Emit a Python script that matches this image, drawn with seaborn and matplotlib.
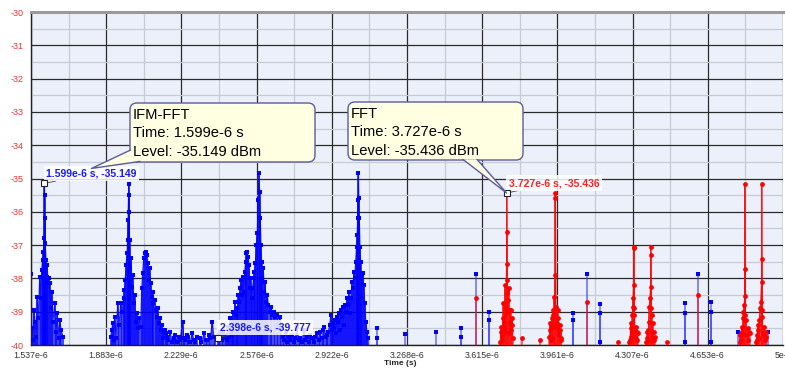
import matplotlib
matplotlib.use("Agg")
import matplotlib.pyplot as plt
from matplotlib.patches import FancyBboxPatch, Polygon
from matplotlib.lines import Line2D
from matplotlib.transforms import Affine2D
import numpy as np
import pandas as pd
import seaborn as sns

# ---------------- data (time in microseconds, level in dBm) ----------------
ifm_burst1_t = [1.537, 1.541, 1.546, 1.551, 1.556, 1.561, 1.566, 1.571, 1.577, 1.582,
                1.586, 1.590, 1.594, 1.597, 1.599, 1.600, 1.601, 1.603, 1.606, 1.609,
                1.612, 1.615, 1.619, 1.623, 1.628, 1.633, 1.638, 1.646, 1.652, 1.658,
                1.664, 1.669, 1.676, 1.684]
ifm_burst1_lv = [-37.87, -39.50, -39.85, -38.95, -39.30, -39.75, -38.55, -39.20, -37.96, -38.60,
                 -37.75, -37.45, -37.20, -36.80, -35.149, -35.50, -36.20, -36.95, -37.45, -37.95,
                 -37.60, -38.15, -38.00, -38.15, -38.90, -38.40, -39.30, -38.75, -39.60, -39.05,
                 -39.80, -39.25, -39.55, -39.75]

ifm_burst2_t = [1.904, 1.909, 1.913, 1.918, 1.922, 1.929, 1.936, 1.943, 1.950, 1.957,
                1.963, 1.967, 1.971, 1.975, 1.979, 1.982, 1.984, 1.986, 1.987, 1.989,
                1.991, 1.994, 1.998, 2.002, 2.005, 2.010, 2.014, 2.019, 2.024, 2.030,
                2.036, 2.042, 2.047, 2.051, 2.056, 2.060, 2.065, 2.070, 2.074, 2.079,
                2.083, 2.088, 2.092, 2.097, 2.101, 2.106, 2.111, 2.116, 2.120, 2.125,
                2.129, 2.134, 2.138, 2.143, 2.147, 2.152, 2.157]
ifm_burst2_lv = [-39.75, -39.55, -39.35, -39.85, -39.15, -39.80, -38.75, -39.40, -38.75, -39.00,
                 -38.60, -38.35, -38.05, -37.60, -37.25, -36.85, -36.25, -35.50, -35.17, -36.00,
                 -36.85, -37.65, -37.40, -38.25, -37.90, -38.75, -38.50, -39.30, -39.05, -39.50,
                 -39.20, -39.45, -38.30, -37.85, -37.40, -37.25, -37.20, -37.30, -37.55, -38.05,
                 -37.70, -38.15, -38.55, -38.40, -38.75, -38.65, -38.95, -39.15, -38.90, -39.35,
                 -39.20, -39.55, -39.40, -39.60, -39.80, -39.55, -39.65]

ifm_floor1_t = [2.162, 2.170, 2.178, 2.186, 2.194, 2.202, 2.210, 2.217, 2.224, 2.235,
                2.241, 2.248, 2.255, 2.262, 2.270, 2.280, 2.287, 2.294, 2.302, 2.313,
                2.322, 2.335, 2.342, 2.349, 2.356, 2.363, 2.372, 2.379, 2.386, 2.398,
                2.404, 2.409, 2.416, 2.423, 2.430, 2.436]
ifm_floor1_lv = [-39.75, -39.85, -39.60, -39.90, -39.80, -39.70, -39.90, -39.75, -39.85, -39.30,
                 -39.80, -39.85, -39.70, -39.75, -39.90, -39.65, -39.85, -39.90, -39.75, -39.80,
                 -39.90, -39.65, -39.85, -39.85, -39.70, -39.80, -39.30, -39.75, -39.75, -39.777,
                 -39.70, -39.60, -39.85, -39.65, -39.80, -39.70]

ifm_burst3_t = [2.441, 2.446, 2.451, 2.455, 2.459, 2.462, 2.466, 2.469, 2.473, 2.476,
                2.480, 2.484, 2.487, 2.491, 2.496, 2.500, 2.505, 2.509, 2.513, 2.517,
                2.521, 2.525, 2.529, 2.533, 2.537, 2.541, 2.545, 2.549, 2.553, 2.557,
                2.562, 2.566, 2.570, 2.575, 2.579, 2.583, 2.587, 2.590, 2.593, 2.596,
                2.599, 2.603, 2.607, 2.611, 2.615, 2.620, 2.625, 2.630, 2.636, 2.642,
                2.648, 2.655, 2.661, 2.668, 2.675, 2.682, 2.689]
ifm_burst3_lv = [-39.85, -39.45, -39.75, -39.20, -39.60, -39.70, -39.00, -39.30, -39.50, -38.70,
                 -39.10, -38.90, -39.30, -38.50, -38.70, -38.30, -38.05, -38.50, -37.95, -38.40,
                 -37.80, -37.50, -37.25, -37.20, -37.35, -37.60, -38.30, -38.00, -38.60, -38.30,
                 -38.00, -37.80, -37.55, -37.00, -36.65, -35.65, -34.82, -35.40, -36.20, -37.00,
                 -37.50, -38.00, -37.70, -38.40, -38.10, -38.70, -38.50, -38.80, -39.00, -38.85,
                 -39.10, -39.00, -39.15, -39.10, -39.40, -39.15, -39.50]

ifm_floor2_t = [2.696, 2.703, 2.710, 2.717, 2.724, 2.731, 2.739, 2.746, 2.754, 2.762,
                2.770, 2.778, 2.785, 2.794, 2.801, 2.808, 2.816, 2.824, 2.831, 2.839,
                2.846, 2.853, 2.861, 2.868, 2.875]
ifm_floor2_lv = [-39.75, -39.85, -39.60, -39.90, -39.75, -39.85, -39.70, -39.90, -39.80, -39.45,
                 -39.85, -39.80, -39.90, -39.55, -39.85, -39.75, -39.90, -39.70, -39.80, -39.90,
                 -39.75, -39.65, -39.85, -39.60, -39.80]

ifm_burst4_t = [2.882, 2.888, 2.894, 2.900, 2.906, 2.912, 2.918, 2.923, 2.928, 2.932,
                2.937, 2.941, 2.946, 2.950, 2.955, 2.960, 2.964, 2.969, 2.973, 2.978,
                2.983, 2.987, 2.992, 2.996, 3.001, 3.005, 3.010, 3.015, 3.019, 3.024,
                3.028, 3.032, 3.036, 3.039, 3.041, 3.043, 3.045, 3.047, 3.049, 3.052,
                3.055, 3.058, 3.061, 3.065, 3.069, 3.074, 3.079, 3.084, 3.090]
ifm_burst4_lv = [-39.55, -39.45, -39.75, -39.70, -39.60, -39.40, -39.10, -39.55, -39.35, -39.50,
                 -39.25, -39.65, -39.15, -39.30, -39.05, -39.55, -38.95, -39.15, -38.85, -39.40,
                 -38.80, -39.00, -38.60, -38.80, -38.40, -39.05, -38.60, -38.10, -38.30, -37.80,
                 -38.00, -37.50, -37.05, -36.70, -36.20, -35.65, -34.82, -35.60, -36.20, -37.05,
                 -37.50, -38.60, -37.90, -37.85, -38.20, -38.75, -39.30, -39.60, -39.80]

ifm_sparse_t = [3.129, 3.129, 3.258, 3.400, 3.519, 3.519, 3.584, 3.648, 3.648, 4.033,
                4.033, 4.098, 4.157, 4.157, 4.157, 4.547, 4.547, 4.547, 4.607, 4.667,
                4.667, 4.667, 4.791, 4.933]
ifm_sparse_lv = [-39.50, -39.80, -39.67, -39.62, -39.50, -39.75, -37.87, -39.00, -39.25, -39.03,
                 -39.25, -37.87, -38.78, -39.05, -39.90, -38.75, -39.05, -39.90, -37.87, -38.70,
                 -39.00, -39.90, -39.60, -39.60]

fft_burst1_t = [3.698, 3.700, 3.703, 3.706, 3.708, 3.710, 3.712, 3.714, 3.716, 3.718,
                3.720, 3.722, 3.724, 3.727, 3.727, 3.727, 3.729, 3.731, 3.733, 3.735,
                3.738, 3.740, 3.742, 3.744, 3.746, 3.749, 3.752, 3.754, 3.756]
fft_burst1_lv = [-39.90, -39.60, -39.45, -39.85, -39.70, -39.20, -38.75, -39.50, -39.30, -38.90,
                 -38.20, -39.60, -39.00, -35.436, -36.60, -37.57, -38.05, -38.45, -39.00, -38.65,
                 -38.30, -39.65, -38.95, -39.30, -38.95, -39.55, -39.20, -39.40, -39.80]

fft_burst2_t = [3.923, 3.926, 3.928, 3.930, 3.932, 3.935, 3.937, 3.939, 3.941, 3.944,
                3.946, 3.949, 3.952, 3.952, 3.952, 3.955, 3.957, 3.960, 3.962, 3.964,
                3.967, 3.969, 3.971, 3.973, 3.976, 3.978]
fft_burst2_lv = [-39.75, -39.55, -39.35, -39.85, -39.50, -39.20, -39.80, -38.95, -39.10, -39.45,
                 -38.55, -39.05, -35.45, -35.60, -37.90, -38.85, -39.50, -39.35, -38.95, -39.20,
                 -39.65, -39.70, -39.40, -39.55, -39.85, -39.80]

fft_burst3_t = [4.293, 4.295, 4.298, 4.300, 4.302, 4.304, 4.306, 4.307, 4.309, 4.312,
                4.312, 4.312, 4.314, 4.316, 4.318, 4.320, 4.323, 4.326, 4.329, 4.332]
fft_burst3_lv = [-39.90, -39.85, -39.50, -39.35, -39.75, -39.60, -39.10, -38.85, -38.60, -37.07,
                 -37.10, -38.20, -38.90, -39.10, -39.55, -39.75, -39.45, -39.85, -39.60, -39.65]

fft_burst4_t = [4.371, 4.373, 4.375, 4.377, 4.379, 4.381, 4.384, 4.387, 4.390, 4.390,
                4.390, 4.393, 4.396, 4.398, 4.400, 4.402, 4.404, 4.407, 4.409]
fft_burst4_lv = [-39.90, -39.80, -39.60, -39.55, -39.85, -39.30, -38.85, -38.60, -37.07, -37.30,
                 -38.25, -38.90, -39.10, -39.60, -39.35, -39.80, -39.60, -39.85, -39.75]

fft_burst5_t = [4.800, 4.803, 4.806, 4.809, 4.812, 4.814, 4.816, 4.818, 4.821, 4.824,
                4.824, 4.824, 4.827, 4.830, 4.833, 4.837, 4.840, 4.843, 4.846]
fft_burst5_lv = [-39.90, -39.70, -39.85, -39.45, -39.60, -39.70, -39.20, -39.00, -38.80, -35.17,
                 -37.72, -38.52, -39.10, -39.25, -39.70, -39.50, -39.85, -39.60, -39.65]

fft_burst6_t = [4.876, 4.878, 4.881, 4.884, 4.887, 4.889, 4.891, 4.894, 4.897, 4.901,
                4.901, 4.901, 4.903, 4.905, 4.908, 4.910, 4.914, 4.917, 4.920, 4.923]
fft_burst6_lv = [-39.90, -39.85, -39.70, -39.40, -39.55, -39.80, -39.25, -38.90, -38.70, -35.17,
                 -37.42, -38.10, -38.95, -39.15, -39.70, -39.65, -39.45, -39.85, -39.60, -39.75]

fft_sparse_t = [3.584, 3.799, 3.882, 4.098, 4.240, 4.465, 4.607]
fft_sparse_lv = [-38.60, -39.80, -39.85, -38.70, -39.90, -39.90, -38.50]

x_tick_us = [1.537, 1.883, 2.229, 2.576, 2.922, 3.268, 3.615, 3.961, 4.307, 4.653, 5.0]
x_tick_labels = ["1.537e-6", "1.883e-6", "2.229e-6", "2.576e-6", "2.922e-6", "3.268e-6",
                 "3.615e-6", "3.961e-6", "4.307e-6", "4.653e-6", "5e-6"]
y_ticks = [-40, -39, -38, -37, -36, -35, -34, -33, -32, -31, -30]

ifm_cursor = (1.599, -35.149)
fft_cursor = (3.727, -35.436)
ifm_cursor2 = (2.398, -39.777)

# ---------------- figure ----------------
sns.set_style("white")
plt.rcParams["font.family"] = ["Liberation Sans", "DejaVu Sans"]

W, H = 785, 368
fig = plt.figure(figsize=(W / 100, H / 100), dpi=100)
fig.patch.set_facecolor("white")
ax = fig.add_axes([31 / W, 1 - 345 / H, 752 / W, 333 / H])
ax.set_facecolor("#EBF0FA")


def frame(times, levels, group):
    return pd.DataFrame({"time_s": np.asarray(times) * 1e-6,
                         "level": np.asarray(levels, dtype=float),
                         "group": group})


ifm_groups = [frame(ifm_burst1_t, ifm_burst1_lv, "b1"),
              frame(ifm_burst2_t, ifm_burst2_lv, "b2"),
              frame(ifm_floor1_t, ifm_floor1_lv, "f1"),
              frame(ifm_burst3_t, ifm_burst3_lv, "b3"),
              frame(ifm_floor2_t, ifm_floor2_lv, "f2"),
              frame(ifm_burst4_t, ifm_burst4_lv, "b4")]
ifm_dense = pd.concat(ifm_groups, ignore_index=True)
ifm_sparse = frame(ifm_sparse_t, ifm_sparse_lv, "s")
ifm = pd.concat([ifm_dense, ifm_sparse], ignore_index=True)

fft_dense = pd.concat([frame(fft_burst1_t, fft_burst1_lv, "r1"),
                       frame(fft_burst2_t, fft_burst2_lv, "r2"),
                       frame(fft_burst3_t, fft_burst3_lv, "r3"),
                       frame(fft_burst4_t, fft_burst4_lv, "r4"),
                       frame(fft_burst5_t, fft_burst5_lv, "r5"),
                       frame(fft_burst6_t, fft_burst6_lv, "r6")], ignore_index=True)
fft_sparse = frame(fft_sparse_t, fft_sparse_lv, "s")
fft = pd.concat([fft_dense, fft_sparse], ignore_index=True)

ymin, ymax = -40, -30
BLUE, RED = "#0000FF", "#FF0000"

# IFM-FFT trace
ax.vlines(ifm_dense["time_s"], ymin - 0.5, ifm_dense["level"], color=BLUE, lw=1.1, alpha=0.9, zorder=2)
ax.vlines(ifm_sparse["time_s"], ymin - 0.5, ifm_sparse["level"], color="#3030FF", lw=1.1, alpha=0.7, zorder=2)
sns.lineplot(data=ifm_dense, x="time_s", y="level", units="group", estimator=None,
             color=BLUE, lw=0.8, alpha=0.85, ax=ax, zorder=2, legend=False)
sns.scatterplot(data=ifm, x="time_s", y="level", marker="s", s=12, color=BLUE,
                linewidth=0, ax=ax, zorder=3, legend=False)

# FFT trace
ax.vlines(fft["time_s"], ymin - 0.5, fft["level"], color="#FF1010", lw=1.1, alpha=0.75, zorder=4)
sns.lineplot(data=fft_dense, x="time_s", y="level", units="group", estimator=None,
             color=RED, lw=0.8, alpha=0.8, ax=ax, zorder=4, legend=False)
sns.scatterplot(data=fft, x="time_s", y="level", marker="o", s=12, color=RED,
                linewidth=0, ax=ax, zorder=5, legend=False)

ax.set_xlim(x_tick_us[0] * 1e-6, x_tick_us[-1] * 1e-6)
ax.set_ylim(ymin, ymax)

xt = np.array(x_tick_us) * 1e-6
ax.set_xticks(xt)
ax.set_xticklabels(x_tick_labels)
ax.set_xticks((xt[:-1] + xt[1:]) / 2, minor=True)
ax.set_yticks(y_ticks)
ax.set_yticklabels([str(v) for v in y_ticks])
ax.set_yticks(np.array(y_ticks[:-1]) + 0.5, minor=True)
ax.grid(which="major", color="#2b2b2b", lw=0.9)
ax.grid(which="minor", color="#c6cad3", lw=0.9)
ax.set_axisbelow(True)

ax.tick_params(axis="x", which="major", labelsize=6.3, labelcolor="#333333", length=3,
               width=0.8, color="#333333", pad=1, direction="out")
ax.tick_params(axis="y", which="major", labelsize=6.5, labelcolor="#EE3030", length=3,
               width=0.8, color="#333333", pad=2, direction="out")
ax.tick_params(which="minor", length=0)
ax.set_xlabel("Time (s)", fontsize=6.0, fontweight="bold")
ax.xaxis.set_label_coords((400 - 31) / 752, -0.046)
ax.set_ylabel("")

for side in ("left", "bottom"):
    ax.spines[side].set_color("#222222")
    ax.spines[side].set_linewidth(1.0)
ax.spines["top"].set_color("#9a9a9a")
ax.spines["top"].set_linewidth(2.2)
ax.spines["right"].set_visible(False)

# cursor markers and small labels
for (t, lv), col in ((ifm_cursor, "#1818FF"), (fft_cursor, "#FF2020"), (ifm_cursor2, "#1818FF")):
    ax.plot([t * 1e-6], [lv], ls="none", marker="s", ms=4, mfc="white", mec="#222222",
            mew=0.8, zorder=9)
    ax.annotate(f"{t:.3f}e-6 s, {lv:.3f}", xy=(t * 1e-6, lv), xytext=(2, 10),
                textcoords="offset pixels", ha="left", va="center", fontsize=7.5,
                fontweight="bold", color=col, zorder=8,
                bbox=dict(boxstyle="square,pad=0.25", fc="white", ec="none", alpha=0.85),
                arrowprops=dict(arrowstyle="-", color="#444444", lw=0.6, shrinkA=0, shrinkB=2))

# callout boxes (pixel coordinates, origin top-left)
pix = Affine2D().scale(1 / W, -1 / H).translate(0, 1) + fig.transFigure
box_fc, box_ec = "#FFFFE1", "#5B5B9E"


def data_px(t, lv):
    X, Y = ax.transData.transform((t * 1e-6, lv))
    return X, H - Y


def callout(x0, y0, w, h, lines, a, b, tip):
    fig.add_artist(FancyBboxPatch((x0, y0), w, h, boxstyle="round,pad=0,rounding_size=7",
                                  fc=box_fc, ec=box_ec, lw=1, transform=pix, zorder=10))
    fig.add_artist(Polygon([a, tip, b], closed=True, fc=box_fc, ec="none",
                           transform=pix, zorder=11))
    fig.add_artist(Line2D([a[0], tip[0], b[0]], [a[1], tip[1], b[1]], color=box_ec,
                          lw=1, transform=pix, zorder=12))
    for i, s in enumerate(lines):
        fig.text(x0 + 3, y0 + 12 + 18.3 * i, s, transform=pix, ha="left", va="center",
                 fontsize=10.6, color="#000000", zorder=13)


lx, ly = data_px(*ifm_cursor)
callout(130, 103, 185, 59,
        ["IFM-FFT", f"Time: {ifm_cursor[0]:.3f}e-6 s", f"Level: {ifm_cursor[1]:.3f} dBm"],
        (130.6, 150), (140, 161.4), (lx + 47, ly - 15))
fx, fy = data_px(*fft_cursor)
callout(348, 102, 175, 58,
        ["FFT", f"Time: {fft_cursor[0]:.3f}e-6 s", f"Level: {fft_cursor[1]:.3f} dBm"],
        (463, 159.4), (477, 159.4), (fx, fy))

fig.savefig("out.png", dpi=100)
